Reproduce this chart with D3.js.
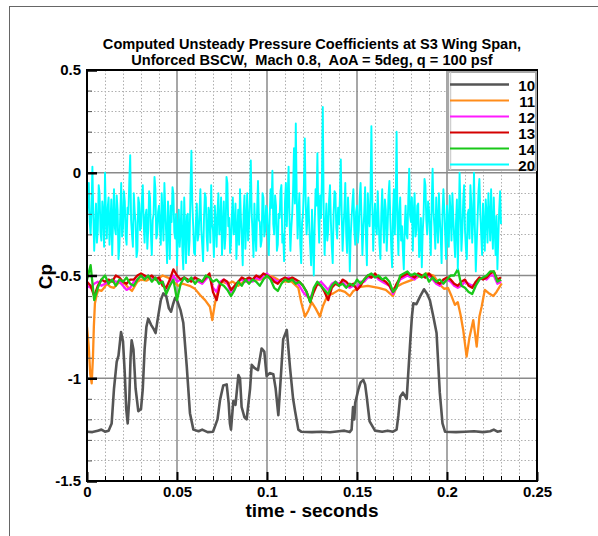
<!DOCTYPE html>
<html>
<head>
<meta charset="utf-8">
<script src="https://cdn.jsdelivr.net/npm/d3@7/dist/d3.min.js"></script>
<style>
  html, body { margin: 0; padding: 0; background: #fff; }
  svg { display: block; font-family: "Liberation Sans", Arial, Helvetica, sans-serif; }
  text { font-weight: bold; fill: #000; }
</style>
</head>
<body>
<svg id="chart" width="598" height="536"></svg>
<script>
// ---- data -------------------------------------------------------------
const titleLines = [
  "Computed Unsteady Pressure Coefficients at S3 Wing Span,",
  "Unforced BSCW,  Mach 0.8,  AoA = 5deg, q = 100 psf"
];
const xTicks = [0, 0.05, 0.1, 0.15, 0.2, 0.25];
const xTickLabels = ["0", "0.05", "0.1", "0.15", "0.2", "0.25"];
const yTicks = [0.5, 0, -0.5, -1, -1.5];
const yTickLabels = ["0.5", "0", "-0.5", "-1", "-1.5"];
const seriesNames = ["10", "11", "12", "13", "14", "20"];
const seriesColors = ["#555555", "#ff8c1a", "#ff1aff", "#d40000", "#19c819", "#00ffff"];

// station 10: [time, Cp]
const cp10 = [
  [0, -1.26], [0.003, -1.262], [0.006, -1.255], [0.008, -1.25], [0.010, -1.26], [0.012, -1.255],
  [0.0137, -1.22], [0.015, -1.05], [0.0165, -0.92], [0.0175, -0.89], [0.0189, -0.775], [0.020, -0.82],
  [0.021, -0.98], [0.0218, -1.15], [0.0226, -1.22], [0.0235, -1.1], [0.0242, -0.9], [0.0248, -0.815],
  [0.0258, -0.86], [0.027, -1.05], [0.0285, -1.16], [0.030, -1.15], [0.031, -1.05], [0.032, -0.86],
  [0.033, -0.75], [0.034, -0.71], [0.0356, -0.74], [0.037, -0.76], [0.0381, -0.78], [0.0395, -0.7],
  [0.041, -0.62], [0.0424, -0.587], [0.044, -0.6], [0.0455, -0.66], [0.0467, -0.676], [0.0478, -0.64],
  [0.0489, -0.61], [0.050, -0.62], [0.052, -0.67], [0.0535, -0.73], [0.0554, -0.94], [0.0572, -1.17],
  [0.0591, -1.25], [0.062, -1.258], [0.064, -1.25], [0.067, -1.262], [0.070, -1.26], [0.0725, -1.2],
  [0.0739, -1.106], [0.0757, -1.035], [0.0776, -1.03], [0.0787, -1.12], [0.0794, -1.22], [0.080, -1.25],
  [0.0813, -1.11], [0.0825, -1.13], [0.0841, -0.985], [0.085, -1.0], [0.0859, -1.14], [0.0875, -1.19],
  [0.0887, -1.2], [0.0906, -1.05], [0.0915, -0.935], [0.093, -0.95], [0.095, -0.96], [0.097, -0.855],
  [0.0985, -0.87], [0.0998, -0.99], [0.1015, -0.975], [0.1035, -0.98], [0.1048, -1.05], [0.1063, -1.18],
  [0.108, -0.95], [0.109, -0.81], [0.111, -0.765], [0.1128, -0.95], [0.1145, -1.1], [0.1156, -1.16],
  [0.1174, -1.25], [0.119, -1.26], [0.125, -1.262], [0.130, -1.26], [0.135, -1.263], [0.140, -1.258],
  [0.143, -1.255], [0.146, -1.262], [0.147, -1.25], [0.1478, -1.14], [0.1485, -1.2], [0.149, -1.12],
  [0.1507, -1.057], [0.152, -1.02], [0.1535, -1.008], [0.1545, -1.03], [0.1554, -1.09], [0.157, -1.21],
  [0.160, -1.255], [0.164, -1.26], [0.167, -1.255], [0.170, -1.26], [0.172, -1.25], [0.173, -1.18],
  [0.174, -1.09], [0.1755, -1.07], [0.1776, -1.1], [0.1794, -0.846], [0.1805, -0.7], [0.1813, -0.635],
  [0.183, -0.64], [0.185, -0.603], [0.1872, -0.567], [0.189, -0.59], [0.1905, -0.62], [0.1924, -0.70],
  [0.1942, -0.78], [0.196, -1.07], [0.1975, -1.22], [0.1989, -1.26], [0.205, -1.262], [0.210, -1.26],
  [0.215, -1.258], [0.220, -1.262], [0.224, -1.258], [0.226, -1.25], [0.228, -1.26], [0.2304, -1.255]
];

// station 11: [time, Cp]
const cp11 = [
  [0, -0.75], [0.001, -0.85], [0.0018, -0.98], [0.0026, -1.025], [0.0033, -0.9], [0.0038, -0.75],
  [0.0044, -0.635], [0.0055, -0.59], [0.0063, -0.57], [0.008, -0.575], [0.0095, -0.56], [0.011, -0.54],
  [0.013, -0.555], [0.015, -0.56], [0.017, -0.54], [0.019, -0.53], [0.021, -0.54], [0.023, -0.56],
  [0.025, -0.575], [0.027, -0.545], [0.028, -0.53], [0.030, -0.52], [0.033, -0.525], [0.036, -0.51],
  [0.039, -0.52], [0.042, -0.5], [0.045, -0.51], [0.048, -0.53], [0.0507, -0.55], [0.053, -0.54],
  [0.055, -0.545], [0.057, -0.55], [0.060, -0.565], [0.0628, -0.595], [0.0656, -0.62], [0.0683, -0.652],
  [0.0696, -0.717], [0.071, -0.64], [0.073, -0.56], [0.075, -0.53], [0.078, -0.54], [0.081, -0.53],
  [0.084, -0.55], [0.087, -0.53], [0.090, -0.525], [0.093, -0.52], [0.096, -0.52], [0.099, -0.51],
  [0.101, -0.5], [0.103, -0.505], [0.106, -0.52], [0.109, -0.53], [0.1137, -0.53], [0.1174, -0.56],
  [0.119, -0.63], [0.1211, -0.70], [0.123, -0.67], [0.1248, -0.63], [0.127, -0.66], [0.1294, -0.70],
  [0.131, -0.65], [0.1335, -0.6], [0.1368, -0.587], [0.140, -0.57], [0.1433, -0.58], [0.146, -0.6],
  [0.148, -0.575], [0.152, -0.555], [0.156, -0.55], [0.159, -0.555], [0.162, -0.56], [0.166, -0.57],
  [0.170, -0.6], [0.172, -0.555], [0.175, -0.54], [0.178, -0.53], [0.181, -0.52], [0.1845, -0.505],
  [0.1887, -0.49], [0.1925, -0.5], [0.196, -0.545], [0.1985, -0.565], [0.2005, -0.56], [0.2025, -0.6],
  [0.2044, -0.643], [0.206, -0.63], [0.2075, -0.69], [0.209, -0.765], [0.2109, -0.895], [0.2125, -0.8],
  [0.2146, -0.717], [0.2165, -0.846], [0.218, -0.7], [0.2193, -0.65], [0.221, -0.57], [0.223, -0.585],
  [0.2257, -0.60], [0.2275, -0.58], [0.2304, -0.538]
];

// stations 12, 13, 14: Cp sampled every 0.002 s from t = 0
const cp12 = [
  -0.55, -0.56, -0.54, -0.53, -0.55, -0.54, -0.53, -0.52, -0.53, -0.53,
  -0.55, -0.57, -0.56, -0.53, -0.52, -0.50, -0.51, -0.50, -0.52, -0.51,
  -0.52, -0.53, -0.57, -0.55, -0.50, -0.53, -0.52, -0.51, -0.53, -0.52,
  -0.51, -0.53, -0.54, -0.52, -0.50, -0.56, -0.58, -0.53, -0.52, -0.54,
  -0.58, -0.56, -0.53, -0.52, -0.53, -0.52, -0.53, -0.51, -0.52, -0.50,
  -0.49, -0.51, -0.52, -0.53, -0.52, -0.52, -0.51, -0.52, -0.53, -0.55,
  -0.58, -0.60, -0.61, -0.57, -0.54, -0.53, -0.55, -0.57, -0.54, -0.53,
  -0.54, -0.53, -0.55, -0.56, -0.55, -0.56, -0.53, -0.53, -0.51, -0.51,
  -0.50, -0.52, -0.53, -0.54, -0.55, -0.59, -0.55, -0.52, -0.51, -0.50,
  -0.51, -0.52, -0.50, -0.50, -0.51, -0.50, -0.52, -0.54, -0.55, -0.53,
  -0.52, -0.53, -0.55, -0.56, -0.55, -0.53, -0.54, -0.55, -0.54, -0.52,
  -0.51, -0.52, -0.50, -0.50, -0.54, -0.53
];
const cp13 = [
  -0.53, -0.55, -0.60, -0.55, -0.52, -0.53, -0.52, -0.53, -0.50, -0.51,
  -0.53, -0.54, -0.52, -0.52, -0.50, -0.49, -0.50, -0.51, -0.50, -0.52,
  -0.51, -0.55, -0.56, -0.52, -0.47, -0.50, -0.52, -0.51, -0.52, -0.53,
  -0.51, -0.52, -0.53, -0.51, -0.49, -0.58, -0.62, -0.54, -0.52, -0.53,
  -0.57, -0.55, -0.53, -0.51, -0.52, -0.51, -0.52, -0.50, -0.51, -0.49,
  -0.50, -0.51, -0.53, -0.54, -0.52, -0.51, -0.52, -0.51, -0.52, -0.53,
  -0.55, -0.58, -0.63, -0.58, -0.54, -0.55, -0.58, -0.62, -0.56, -0.54,
  -0.55, -0.52, -0.53, -0.55, -0.54, -0.57, -0.55, -0.52, -0.50, -0.51,
  -0.49, -0.51, -0.52, -0.53, -0.55, -0.58, -0.54, -0.51, -0.50, -0.49,
  -0.50, -0.51, -0.49, -0.50, -0.51, -0.49, -0.51, -0.53, -0.54, -0.52,
  -0.51, -0.52, -0.54, -0.55, -0.53, -0.52, -0.55, -0.56, -0.53, -0.51,
  -0.52, -0.51, -0.49, -0.48, -0.52, -0.51
];
const cp14 = [
  -0.52, -0.45, -0.62, -0.56, -0.52, -0.50, -0.54, -0.52, -0.55, -0.52,
  -0.53, -0.51, -0.54, -0.55, -0.52, -0.50, -0.52, -0.50, -0.53, -0.51,
  -0.54, -0.53, -0.59, -0.55, -0.52, -0.62, -0.54, -0.51, -0.53, -0.51,
  -0.54, -0.52, -0.53, -0.50, -0.51, -0.53, -0.52, -0.54, -0.55, -0.57,
  -0.60, -0.57, -0.53, -0.55, -0.52, -0.54, -0.52, -0.53, -0.55, -0.52,
  -0.50, -0.52, -0.56, -0.575, -0.54, -0.52, -0.53, -0.52, -0.54, -0.53,
  -0.55, -0.58, -0.63, -0.56, -0.53, -0.55, -0.57, -0.59, -0.55, -0.53,
  -0.55, -0.54, -0.56, -0.54, -0.55, -0.52, -0.54, -0.52, -0.50, -0.49,
  -0.51, -0.50, -0.52, -0.51, -0.53, -0.58, -0.56, -0.50, -0.49, -0.48,
  -0.50, -0.49, -0.50, -0.51, -0.49, -0.53, -0.51, -0.53, -0.52, -0.54,
  -0.52, -0.50, -0.50, -0.47, -0.55, -0.56, -0.58, -0.59, -0.55, -0.52,
  -0.51, -0.50, -0.48, -0.48, -0.53, -0.52
];

// station 20: Cp sampled every 0.0005 s from t = 0
const cp20 = [
  -0.22, -0.12, -0.05, -0.24, -0.30, -0.18, 0.03, -0.20, -0.38, -0.26, -0.15, -0.34, -0.28, -0.06, -0.10, -0.29, -0.33, -0.14, -0.20, -0.36,
  0.00, -0.21, -0.32, -0.17, -0.12, -0.35, -0.25, -0.13, -0.40, -0.22, -0.08, -0.27, -0.30, -0.11, -0.18, -0.42, -0.36, -0.20, -0.05, -0.31,
  -0.27, -0.09, -0.14, -0.31, -0.35, -0.17, -0.20, -0.04, 0.086, -0.23, -0.30, -0.36, -0.10, -0.19, -0.24, -0.41, -0.38, -0.12, -0.15, -0.28,
  -0.26, -0.13, -0.06, -0.25, -0.34, -0.21, -0.18, -0.37, -0.28, -0.09, -0.12, -0.30, -0.40, -0.23, -0.20, -0.02, -0.08, -0.32, -0.30, -0.19,
  -0.16, -0.27, -0.35, -0.10, -0.22, -0.33, -0.05, -0.18, -0.30, -0.44, -0.14, -0.25, -0.42, -0.16, -0.24, -0.07, -0.10, -0.29, -0.32, -0.20,
  -0.45, -0.30, -0.18, -0.36, -0.28, -0.14, -0.38, -0.47, -0.12, -0.27, -0.44, -0.21, -0.20, -0.40, -0.33, -0.08, 0.107, -0.15, -0.26, -0.39,
  -0.40, -0.24, -0.15, -0.33, -0.30, -0.19, -0.08, -0.28, -0.35, -0.43, -0.22, -0.10, -0.12, -0.31, -0.38, -0.17, -0.20, -0.34, -0.06, -0.25,
  -0.28, -0.41, -0.16, -0.24, -0.36, -0.19, -0.10, -0.30, -0.25, -0.12, -0.40, -0.27, -0.14, -0.37, -0.30, -0.02, -0.05, -0.26, -0.22, -0.39,
  -0.34, -0.20, -0.12, -0.30, -0.27, -0.15, -0.42, -0.29, -0.18, -0.35, -0.08, -0.22, -0.32, -0.45, -0.20, -0.11, -0.37, -0.24, -0.10, -0.33,
  -0.26, -0.13, 0.06, -0.20, -0.30, -0.41, -0.15, -0.29, -0.38, -0.18, -0.04, -0.23, -0.24, -0.36, -0.33, -0.10, -0.12, -0.31, -0.28, -0.16,
  -0.18, -0.30, -0.40, -0.21, -0.08, -0.17, 0.01, -0.25, -0.30, -0.11, -0.16, -0.38, -0.35, -0.20, -0.22, -0.09, -0.06, -0.34, -0.30, -0.43,
  -0.14, -0.05, -0.26, -0.12, 0.03, -0.22, -0.38, -0.27, -0.20, -0.08, 0.12, -0.15, 0.24, -0.10, -0.32, -0.19, -0.10, -0.35, -0.44, -0.24,
  -0.20, -0.06, 0.167, -0.14, -0.30, -0.21, -0.12, -0.27, -0.36, -0.45, -0.18, -0.33, -0.50, -0.25, -0.08, -0.16, 0.095, -0.20, -0.34, -0.11,
  -0.22, -0.04, 0.32, -0.18, -0.40, -0.26, -0.15, -0.33, -0.28, -0.13, -0.06, -0.24, -0.36, -0.44, -0.20, -0.09, -0.10, -0.27, -0.32, -0.17,
  -0.25, -0.12, 0.065, -0.20, -0.38, -0.27, -0.18, -0.05, -0.30, -0.39, -0.12, -0.23, -0.48, -0.31, -0.22, -0.14, -0.08, -0.28, -0.35, -0.19,
  -0.16, -0.34, -0.28, -0.12, -0.05, -0.22, -0.40, -0.28, -0.20, -0.07, -0.32, -0.45, -0.10, -0.21, -0.26, -0.10, 0.227, -0.15, -0.38, -0.24,
  -0.15, -0.26, -0.30, -0.09, -0.22, -0.35, -0.42, -0.20, -0.08, -0.24, -0.34, -0.13, -0.18, -0.38, -0.27, -0.11, -0.04, -0.22, -0.36, -0.46,
  -0.20, -0.08, -0.30, -0.14, 0.20, -0.25, -0.40, -0.19, -0.12, -0.33, -0.26, -0.38, -0.47, -0.27, -0.16, -0.30, -0.32, -0.13, 0.02, -0.21,
  -0.24, -0.12, -0.38, -0.20, -0.10, -0.31, -0.28, -0.16, -0.15, -0.41, -0.35, -0.22, -0.46, -0.29, -0.20, -0.03, -0.06, -0.23, -0.30, -0.14,
  -0.18, -0.29, -0.40, -0.15, 0.02, -0.19, -0.26, -0.37, -0.12, -0.24, -0.34, -0.10, -0.22, -0.31, -0.44, -0.20, -0.08, -0.18, -0.30, -0.42,
  -0.16, -0.25, -0.36, -0.11, -0.20, -0.33, -0.10, -0.22, -0.32, -0.41, -0.24, -0.13, -0.47, -0.26, 0.00, -0.17, -0.38, -0.29, -0.14, -0.06,
  -0.28, -0.37, -0.42, -0.20, -0.18, -0.32, -0.06, -0.15, -0.34, -0.23, 0.00, -0.27, -0.48, -0.35, -0.22, -0.09, -0.03, -0.19, -0.30, -0.40,
  -0.15, -0.26, -0.38, -0.13, -0.20, -0.34, -0.10, -0.22, -0.33, -0.08, -0.26, -0.37, -0.12, -0.28, -0.40, -0.21, -0.47, -0.32, -0.18, -0.09,
  -0.25
];

// ---- layout -----------------------------------------------------------
const svg = d3.select("#chart");
const plot = { left: 87, right: 537, top: 70, bottom: 481 };

const x = d3.scaleLinear().domain([0, 0.25]).range([plot.left, plot.right]);
const y = d3.scaleLinear().domain([-1.5, 0.5]).range([plot.bottom, plot.top]);

const sampled = (vals, dt) => vals.map((v, i) => [i * dt, v]);
const series = [
  cp10,
  cp11,
  sampled(cp12, 0.002),
  sampled(cp13, 0.002),
  sampled(cp14, 0.002),
  sampled(cp20, 0.0005)
];

// page frame lines
svg.append("line").attr("x1", 9).attr("x2", 598).attr("y1", 6.5).attr("y2", 6.5)
  .attr("stroke", "#666").attr("stroke-width", 1);
svg.append("line").attr("x1", 9.5).attr("x2", 9.5).attr("y1", 6).attr("y2", 536)
  .attr("stroke", "#666").attr("stroke-width", 1);

// title
svg.append("g").selectAll("text").data(titleLines).join("text")
  .attr("x", 312).attr("y", (d, i) => 49 + i * 16)
  .attr("text-anchor", "middle")
  .attr("font-size", 14.6)
  .style("white-space", "pre")
  .attr("xml:space", "preserve")
  .text(d => d);

// minor grid
const xMinor = d3.range(0, 0.2501, 0.01).map(v => +v.toFixed(3)).filter(v => Math.abs(v / 0.05 - Math.round(v / 0.05)) > 1e-6);
const yMinor = d3.range(-1.5, 0.5001, 0.1).map(v => +v.toFixed(3)).filter(v => Math.abs(v / 0.5 - Math.round(v / 0.5)) > 1e-6);

const grid = svg.append("g");
grid.selectAll(".xm").data(xMinor).join("line")
  .attr("x1", d => Math.round(x(d)) + 0.5).attr("x2", d => Math.round(x(d)) + 0.5)
  .attr("y1", plot.top).attr("y2", plot.bottom)
  .attr("stroke", "#b0b0b0").attr("stroke-width", 1).attr("stroke-dasharray", "1.5,2");
grid.selectAll(".ym").data(yMinor).join("line")
  .attr("x1", plot.left).attr("x2", plot.right)
  .attr("y1", d => Math.round(y(d)) + 0.5).attr("y2", d => Math.round(y(d)) + 0.5)
  .attr("stroke", "#b0b0b0").attr("stroke-width", 1).attr("stroke-dasharray", "1.5,2");

// major grid
grid.selectAll(".xM").data(xTicks.slice(1, -1)).join("line")
  .attr("x1", d => x(d)).attr("x2", d => x(d))
  .attr("y1", plot.top).attr("y2", plot.bottom)
  .attr("stroke", "#8a8a8a").attr("stroke-width", 1.5);
grid.selectAll(".yM").data(yTicks.slice(1, -1)).join("line")
  .attr("x1", plot.left).attr("x2", plot.right)
  .attr("y1", d => y(d)).attr("y2", d => y(d))
  .attr("stroke", "#8a8a8a").attr("stroke-width", 1.5);

// curves
svg.append("clipPath").attr("id", "clip").append("rect")
  .attr("x", plot.left).attr("y", plot.top)
  .attr("width", plot.right - plot.left).attr("height", plot.bottom - plot.top);

const line = d3.line().x(d => x(d[0])).y(d => y(d[1]));
svg.append("g").attr("clip-path", "url(#clip)")
  .selectAll("path").data(series).join("path")
  .attr("d", line)
  .attr("fill", "none")
  .attr("stroke", (d, i) => seriesColors[i])
  .attr("stroke-width", (d, i) => i === 0 ? 2.6 : (i === 5 ? 1.9 : 2.3))
  .attr("stroke-linejoin", "round");

// axes (ticks pointing inward)
const xAxis = d3.axisBottom(x).tickValues(xTicks).tickFormat((d, i) => xTickLabels[i])
  .tickSizeInner(-9).tickSizeOuter(0).tickPadding(5);
const gx = svg.append("g").attr("transform", `translate(0,${plot.bottom})`).call(xAxis);
gx.select(".domain").remove();
gx.selectAll(".tick line").attr("stroke", "#000").attr("stroke-width", 2);
gx.selectAll(".tick text").attr("font-size", 15).attr("font-family", null).attr("font-weight", "bold");

const xMinorAxis = d3.axisBottom(x).tickValues(xMinor).tickFormat("").tickSizeInner(-5).tickSizeOuter(0);
const gxm = svg.append("g").attr("transform", `translate(0,${plot.bottom})`).call(xMinorAxis);
gxm.select(".domain").remove();
gxm.selectAll(".tick line").attr("stroke", "#000").attr("stroke-width", 1);

const yAxis = d3.axisLeft(y).tickValues(yTicks).tickFormat((d, i) => yTickLabels[i])
  .tickSizeInner(-10).tickSizeOuter(0).tickPadding(6);
const gy = svg.append("g").attr("transform", `translate(${plot.left},0)`).call(yAxis);
gy.select(".domain").remove();
gy.selectAll(".tick line").attr("stroke", "#000").attr("stroke-width", 2.5);
gy.selectAll(".tick text").attr("font-size", 15).attr("font-family", null).attr("font-weight", "bold");

const yMinorAxis = d3.axisLeft(y).tickValues(yMinor).tickFormat("").tickSizeInner(-5).tickSizeOuter(0);
const gym = svg.append("g").attr("transform", `translate(${plot.left},0)`).call(yMinorAxis);
gym.select(".domain").remove();
gym.selectAll(".tick line").attr("stroke", "#555").attr("stroke-width", 1);

// plot frame
svg.append("rect")
  .attr("x", plot.left).attr("y", plot.top)
  .attr("width", plot.right - plot.left).attr("height", plot.bottom - plot.top)
  .attr("fill", "none").attr("stroke", "#000").attr("stroke-width", 2);

// axis titles
svg.append("text").attr("x", 312).attr("y", 517).attr("text-anchor", "middle")
  .attr("font-size", 19).text("time - seconds");
svg.append("text").attr("transform", `translate(52,${y(-0.5) + 1}) rotate(-90)`)
  .attr("text-anchor", "middle").attr("font-size", 19).text("Cp");

// legend
const lg = { x: 448, y: 72, w: 88, h: 98 };
const legend = svg.append("g");
legend.append("rect").attr("x", lg.x).attr("y", lg.y).attr("width", lg.w).attr("height", lg.h)
  .attr("fill", "#fff").attr("stroke", "#a8a8a8").attr("stroke-width", 2);
legend.append("line").attr("x1", lg.x + 2.5).attr("x2", lg.x + 2.5).attr("y1", lg.y).attr("y2", lg.y + lg.h)
  .attr("stroke", "#cfcfcf").attr("stroke-width", 1.5);
const rows = legend.selectAll("g.row").data(seriesNames).join("g")
  .attr("transform", (d, i) => `translate(0,${84.5 + i * 16})`);
rows.append("line").attr("x1", 450).attr("x2", 509).attr("y1", 0).attr("y2", 0)
  .attr("stroke", (d, i) => seriesColors[i]).attr("stroke-width", (d, i) => i === 0 ? 2.6 : 2.2);
rows.append("text").attr("x", 535).attr("y", 6).attr("text-anchor", "end")
  .attr("font-size", 15).text(d => d);
</script>
</body>
</html>
